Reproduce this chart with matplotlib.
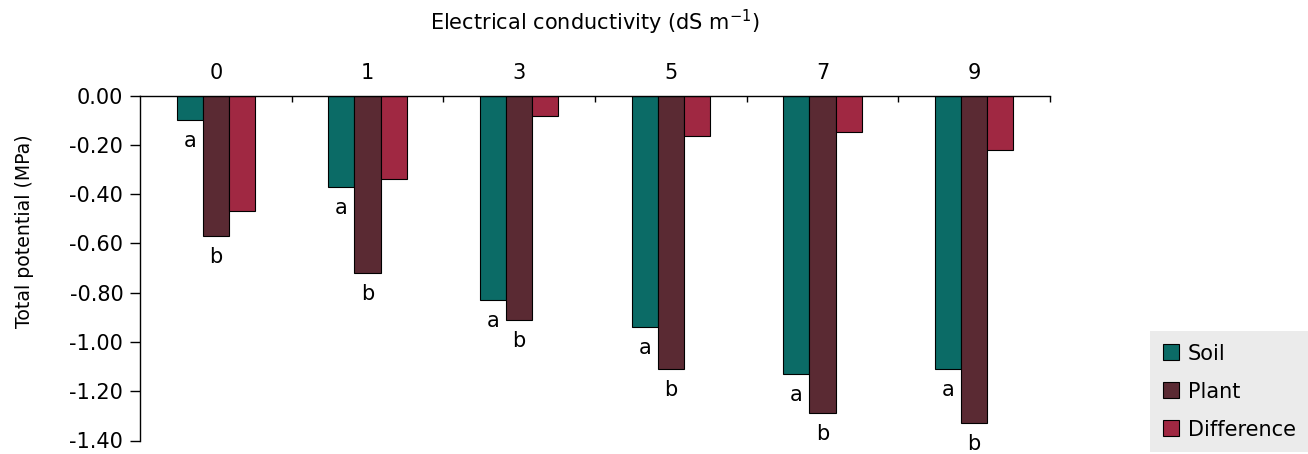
import matplotlib
matplotlib.use("Agg")
import matplotlib.pyplot as plt
import numpy as np

categories = ["0", "1", "3", "5", "7", "9"]
soil = [-0.10, -0.37, -0.83, -0.94, -1.13, -1.11]
plant = [-0.57, -0.72, -0.91, -1.11, -1.29, -1.33]
difference = [-0.47, -0.34, -0.085, -0.165, -0.15, -0.22]
soil_letters = ["a"] * 6
plant_letters = ["b"] * 6
yticks = [0.0, -0.2, -0.4, -0.6, -0.8, -1.0, -1.2, -1.4]

plt.rcParams['font.family'] = ['DejaVu Sans']
FS = 15

fig = plt.figure(figsize=(13.08, 4.54), dpi=100)
ax = fig.add_axes([140/1308, 1-440.5/454, (1050-140)/1308, (440.5-95.5)/454])

x = np.arange(len(categories))
w = 0.172
cols = ["#0b6b66", "#5a2a33", "#a02842"]
ax.bar(x - w, soil, w, color=cols[0], edgecolor="black", linewidth=0.8, label="Soil")
ax.bar(x, plant, w, color=cols[1], edgecolor="black", linewidth=0.8, label="Plant")
ax.bar(x + w, difference, w, color=cols[2], edgecolor="black", linewidth=0.8, label="Difference")

for i in range(len(categories)):
    ax.annotate(soil_letters[i], (x[i] - w, soil[i]), xytext=(0, -15), textcoords="offset points",
                ha="center", va="center", fontsize=FS)
    ax.annotate(plant_letters[i], (x[i], plant[i]), xytext=(0, -15), textcoords="offset points",
                ha="center", va="center", fontsize=FS)

ax.set_xlim(-0.5, len(categories) - 0.5)
ax.set_ylim(-1.4, 0)
ax.set_yticks(yticks)
ax.set_yticklabels([f"{v:.2f}" for v in yticks], fontsize=FS)
ax.tick_params(axis="y", direction="out", length=7, width=1, pad=5)

ax.xaxis.set_ticks_position("top")
ax.set_xticks(x + 0.5)
ax.set_xticklabels([])
ax.set_xticks(x, minor=True)
ax.set_xticklabels(categories, minor=True, fontsize=FS)
ax.tick_params(axis="x", which="major", direction="in", length=4.5, width=1)
ax.tick_params(axis="x", which="minor", length=0, pad=9)

for s in ["right", "bottom"]:
    ax.spines[s].set_visible(False)
ax.spines["top"].set_linewidth(1)
ax.spines["left"].set_linewidth(1)

ax.set_ylabel("Total potential (MPa)", fontsize=13.6)
ax.yaxis.set_label_coords((34 - 140) / 910, (440.5 - 231) / 345)
fig.text(595/1308, 1-22/454, r"Electrical conductivity (dS m$^{\mathregular{-1}}$)",
         ha="center", va="center", fontsize=FS)

leg = fig.legend(loc="lower right", bbox_to_anchor=(1.0, 2/454), fontsize=FS,
                 frameon=True, fancybox=False, handlelength=0.8, handleheight=0.8,
                 handletextpad=0.4, borderaxespad=0.0, labelspacing=0.86, borderpad=0.6)
leg.get_frame().set_facecolor("#e6e6e6")
leg.get_frame().set_edgecolor("none")

fig.savefig("out.png", dpi=100)
